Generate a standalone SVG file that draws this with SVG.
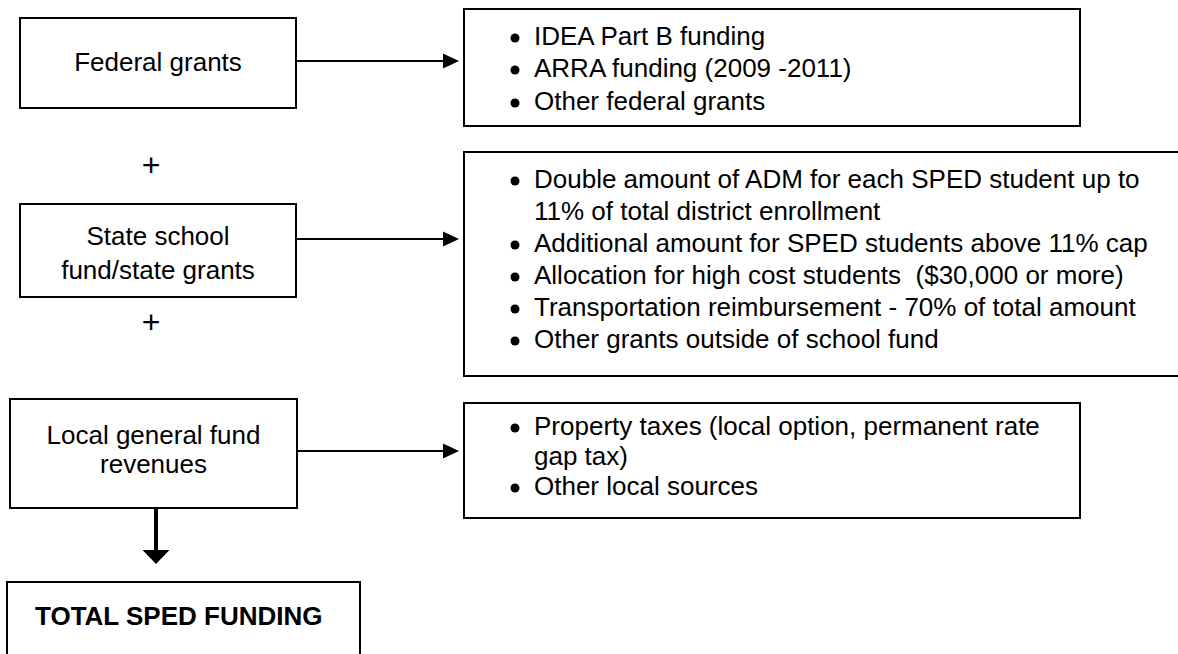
<svg xmlns="http://www.w3.org/2000/svg" width="1178" height="654" viewBox="0 0 1178 654">
<style>
.box{fill:#fff;stroke:#000;stroke-width:2}
.t{font-family:"Liberation Sans",Arial,sans-serif;font-size:26px;fill:#000}
.c{text-anchor:middle}
.b{font-weight:bold}
.line{stroke:#000;stroke-width:2;fill:none}
.head{fill:#000}
</style>
<rect width="1178" height="654" fill="#fff"/>
<g id="connectors">
<line class="line" x1="296" y1="61" x2="444" y2="61"/>
<polygon class="head" points="443,53.5 459,61 443,68.5"/>
<line class="line" x1="296" y1="239" x2="444" y2="239"/>
<polygon class="head" points="443,231.5 459,239 443,246.5"/>
<line class="line" x1="297" y1="451" x2="444" y2="451"/>
<polygon class="head" points="443,443.5 459,451 443,458.5"/>
<line x1="156" y1="504" x2="156" y2="551" stroke="#000" stroke-width="4"/>
<polygon class="head" points="142.5,550 169.5,550 156,564"/>
</g>
<g id="federal">
<rect class="box" x="20" y="18" width="276" height="90"/>
<text class="t c" x="158" y="71">Federal grants</text>
</g>
<g id="federal-items">
<rect class="box" x="464" y="9" width="616" height="117"/>
<circle cx="515" cy="38" r="4.5"/>
<circle cx="515" cy="70" r="4.5"/>
<circle cx="515" cy="103" r="4.5"/>
<text class="t" x="534" y="45">IDEA Part B funding</text>
<text class="t" x="534" y="77">ARRA funding (2009 -2011)</text>
<text class="t" x="534" y="110">Other federal grants</text>
</g>
<g id="plus1"><text class="t c" x="151" y="176" style="font-size:32px">+</text></g>
<g id="state">
<rect class="box" x="20" y="204" width="276" height="93"/>
<text class="t c" x="158" y="245">State school</text>
<text class="t c" x="158" y="279">fund/state grants</text>
</g>
<g id="state-items">
<rect class="box" x="464" y="152" width="720" height="224"/>
<circle cx="515" cy="181" r="4.5"/>
<circle cx="515" cy="245" r="4.5"/>
<circle cx="515" cy="277" r="4.5"/>
<circle cx="515" cy="309" r="4.5"/>
<circle cx="515" cy="341" r="4.5"/>
<text class="t" x="534" y="188">Double amount of ADM for each SPED student up to</text>
<text class="t" x="534" y="220">11% of total district enrollment</text>
<text class="t" x="534" y="252">Additional amount for SPED students above 11% cap</text>
<text class="t" x="534" y="284" xml:space="preserve">Allocation for high cost students  ($30,000 or more)</text>
<text class="t" x="534" y="316">Transportation reimbursement - 70% of total amount</text>
<text class="t" x="534" y="348">Other grants outside of school fund</text>
</g>
<g id="plus2"><text class="t c" x="151" y="333" style="font-size:32px">+</text></g>
<g id="local">
<rect class="box" x="10" y="399" width="287" height="109"/>
<text class="t c" x="153.5" y="444">Local general fund</text>
<text class="t c" x="153.5" y="473">revenues</text>
</g>
<g id="local-items">
<rect class="box" x="464" y="403" width="616" height="115"/>
<circle cx="515" cy="428" r="4.5"/>
<circle cx="515" cy="488" r="4.5"/>
<text class="t" x="534" y="435">Property taxes (local option, permanent rate</text>
<text class="t" x="534" y="465">gap tax)</text>
<text class="t" x="534" y="495">Other local sources</text>
</g>
<g id="total">
<rect class="box" x="7" y="582" width="353" height="90"/>
<text class="t b" x="35" y="625">TOTAL SPED FUNDING</text>
</g>
</svg>
